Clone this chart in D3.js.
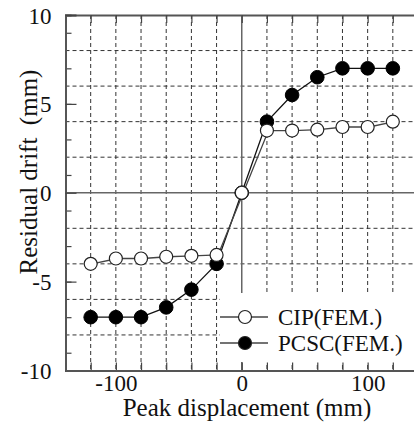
<!DOCTYPE html>
<html><head><meta charset="utf-8">
<script src="https://cdn.jsdelivr.net/npm/d3@7"></script>
<style>html,body{margin:0;padding:0;background:#fff;}svg{display:block;}</style>
</head><body>
<script>
const xValues = [-120,-100,-80,-60,-40,-20,0,20,40,60,80,100,120];
const cipValues = [-4.0,-3.7,-3.7,-3.6,-3.55,-3.5,0,3.5,3.5,3.55,3.7,3.7,4.0];
const pcscValues = [-7.0,-7.0,-7.0,-6.45,-5.45,-4.0,0,4.0,5.5,6.5,7.0,7.0,7.0];
const seriesNames = ["CIP(FEM.)","PCSC(FEM.)"];
const xTickLabels = [-100,0,100];
const yTickLabels = [-10,-5,0,5,10];
const xGrid = [-120,-100,-80,-60,-40,-20,20,40,60,80,100,120];
const yGrid = [-8,-6,-4,-2,2,4,6,8];
const yMinor = [-9,-7,-5,-3,-1,1,3,5,7,9];

const W=414,H=425;
const FONT='"Liberation Serif", monospace';
const svg=d3.select("body").append("svg").attr("width",W).attr("height",H);
const x=d3.scaleLinear().domain([-140,140]).range([65.5,418]);
const y=d3.scaleLinear().domain([-10,10]).range([370.5,15]);

const g=svg.append("g");
g.selectAll(".vg").data(xGrid).enter().append("line")
 .attr("x1",d=>x(d)).attr("x2",d=>x(d)).attr("y1",y(10)).attr("y2",y(-10))
 .attr("stroke","#333").attr("stroke-width",1).attr("stroke-dasharray","4,3");
g.selectAll(".hg").data(yGrid).enter().append("line")
 .attr("x1",x(-140)).attr("x2",W).attr("y1",d=>y(d)).attr("y2",d=>y(d))
 .attr("stroke","#333").attr("stroke-width",1).attr("stroke-dasharray","4,3");
g.append("line").attr("x1",x(0)).attr("x2",x(0)).attr("y1",y(10)).attr("y2",y(-10))
 .attr("stroke","#666").attr("stroke-width",1.5);
g.append("line").attr("x1",x(-140)).attr("x2",W).attr("y1",y(0)).attr("y2",y(0))
 .attr("stroke","#666").attr("stroke-width",1.5);

svg.append("rect").attr("x",220).attr("y",293).attr("width",W-220).attr("height",69).attr("fill","#fff");

const axB=d3.axisBottom(x).tickValues(d3.range(-120,121,20)).tickSize(-8).tickFormat("");
svg.append("g").attr("transform",`translate(0,${y(-10)})`).call(axB);
const axT=d3.axisTop(x).tickValues(d3.range(-120,121,20)).tickSize(-8).tickFormat("");
svg.append("g").attr("transform",`translate(0,${y(10)})`).call(axT);
const axL=d3.axisLeft(y).tickValues(yMinor).tickSize(-6).tickFormat("");
svg.append("g").attr("transform",`translate(${x(-140)},0)`).call(axL);
const axL2=d3.axisLeft(y).tickValues(yTickLabels).tickSize(-11).tickPadding(14).tickFormat(d=>d);
const gl=svg.append("g").attr("transform",`translate(${x(-140)},0)`).call(axL2);
gl.attr("font-family",FONT).attr("font-size",23);
gl.selectAll("text").attr("fill","#111").attr("dy","0.35em");
const axB2=d3.axisBottom(x).tickValues(xTickLabels).tickSize(0).tickPadding(4).tickFormat(d=>d);
const gb=svg.append("g").attr("transform",`translate(0,${y(-10)})`).call(axB2);
gb.attr("font-family",FONT).attr("font-size",23);
gb.selectAll("text").attr("fill","#111");
svg.selectAll(".domain").attr("stroke","#555").attr("stroke-width",1.8);
svg.selectAll(".tick line").attr("stroke","#444").attr("stroke-width",1.2);

svg.append("text").attr("x",247).attr("y",416).attr("text-anchor","middle")
 .attr("font-size",25).attr("fill","#111").attr("font-family",FONT).text("Peak displacement (mm)");
svg.append("text").attr("transform","translate(37,172) rotate(-90)").attr("text-anchor","middle")
 .attr("font-size",25).attr("fill","#111").attr("font-family",FONT).style("white-space","pre")
 .text("Residual drift  (mm)");

const cip=xValues.map((d,i)=>[d,cipValues[i]]);
const pcsc=xValues.map((d,i)=>[d,pcscValues[i]]);
const line=d3.line().x(d=>x(d[0])).y(d=>y(d[1]));
svg.append("path").attr("d",line(pcsc)).attr("fill","none").attr("stroke","#111").attr("stroke-width",1.3);
svg.append("path").attr("d",line(cip)).attr("fill","none").attr("stroke","#444").attr("stroke-width",1.3).attr("transform","translate(1.5,0)");
svg.selectAll(".pp").data(pcsc).enter().append("circle")
 .attr("cx",d=>x(d[0])).attr("cy",d=>y(d[1])).attr("r",6.8).attr("fill","#000").attr("stroke","#000");
svg.selectAll(".cp").data(cip).enter().append("circle")
 .attr("cx",d=>x(d[0])).attr("cy",d=>y(d[1])).attr("r",6.5).attr("fill","#fff").attr("stroke","#222").attr("stroke-width",1.2);

const leg=[{name:seriesNames[0],fill:"#fff",y:317},{name:seriesNames[1],fill:"#000",y:343}];
const lg=svg.selectAll(".lg").data(leg).enter().append("g");
lg.append("line").attr("x1",220).attr("x2",268).attr("y1",d=>d.y).attr("y2",d=>d.y).attr("stroke","#444").attr("stroke-width",1.3);
lg.append("circle").attr("cx",245).attr("cy",d=>d.y).attr("r",6.5).attr("fill",d=>d.fill).attr("stroke","#222").attr("stroke-width",1.2);
lg.append("text").attr("x",278).attr("y",d=>d.y+8).attr("font-size",23).attr("fill","#111").attr("font-family",FONT).text(d=>d.name);
</script>
</body></html>
